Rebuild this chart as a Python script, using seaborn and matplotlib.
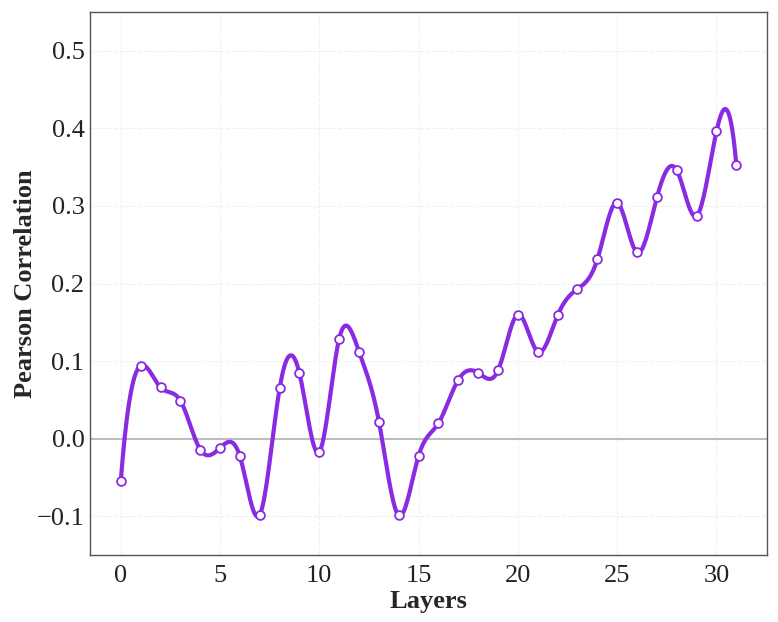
import numpy as np
import pandas as pd
import matplotlib
matplotlib.use('Agg')
import matplotlib.pyplot as plt
import seaborn as sns

# correlação de Pearson por camada
layers = np.arange(32)
corr = [-0.054, 0.094, 0.066, 0.049, -0.014, -0.012, -0.023, -0.098,
        0.065, 0.084, -0.017, 0.129, 0.112, 0.022, -0.099, -0.022,
        0.020, 0.076, 0.085, 0.088, 0.160, 0.112, 0.159, 0.193,
        0.231, 0.304, 0.240, 0.311, 0.346, 0.287, 0.396, 0.353]

line_color = '#8a2be2'


def spline_not_a_knot(x, y, xs):
    # spline cúbica (not-a-knot), passo uniforme
    x = np.asarray(x, float)
    y = np.asarray(y, float)
    n = len(x)
    h = x[1] - x[0]
    A = np.zeros((n, n))
    r = np.zeros(n)
    A[0, 0:3] = [1, -2, 1]
    A[-1, -3:] = [1, -2, 1]
    for i in range(1, n - 1):
        A[i, i - 1:i + 2] = [1, 4, 1]
        r[i] = 6 * (y[i + 1] - 2 * y[i] + y[i - 1]) / h ** 2
    M = np.linalg.solve(A, r)
    idx = np.clip(((xs - x[0]) // h).astype(int), 0, n - 2)
    t = xs - x[idx]
    b = (y[idx + 1] - y[idx]) / h - h * (2 * M[idx] + M[idx + 1]) / 6
    return y[idx] + b * t + M[idx] / 2 * t ** 2 + (M[idx + 1] - M[idx]) / (6 * h) * t ** 3


xs = np.linspace(layers.min(), layers.max(), 600)
ys = spline_not_a_knot(layers, corr, xs)
df = pd.DataFrame({'Layers': layers, 'Pearson Correlation': corr})

sns.set_style('white')
plt.rcParams['font.family'] = ['Liberation Serif', 'DejaVu Serif']

fig = plt.figure(figsize=(7.78, 6.22), dpi=100)
ax = fig.add_axes([0.1157, 0.1077, 0.8703, 0.873])

ax.axhline(0, color='#bdbdbd', linewidth=1.5, zorder=1)
sns.lineplot(x=xs, y=ys, color=line_color, linewidth=3, ax=ax, zorder=2)
sns.scatterplot(data=df, x='Layers', y='Pearson Correlation', color='white',
                edgecolor=line_color, linewidth=1.3, s=40, ax=ax, zorder=3)

ax.set_xlim(-1.55, 32.55)
ax.set_ylim(-0.15, 0.55)
ax.set_xticks([0, 5, 10, 15, 20, 25, 30])
ax.set_yticks([-0.1, 0.0, 0.1, 0.2, 0.3, 0.4, 0.5])
ax.set_yticklabels(['\u22120.1', '0.0', '0.1', '0.2', '0.3', '0.4', '0.5'])
ax.tick_params(labelsize=19, length=0, colors='#222222')
ax.tick_params(axis='x', pad=7)
ax.tick_params(axis='y', pad=4)
ax.grid(True, linestyle='--', color='#f0f0f0', linewidth=0.8)
ax.set_axisbelow(True)
for s in ax.spines.values():
    s.set_color('#555555')
    s.set_linewidth(1.0)

ax.set_xlabel('Layers', fontsize=19, fontweight='bold', labelpad=2)
ax.set_ylabel('Pearson Correlation', fontsize=19, fontweight='bold', labelpad=0)

fig.savefig('out.png', dpi=100)
